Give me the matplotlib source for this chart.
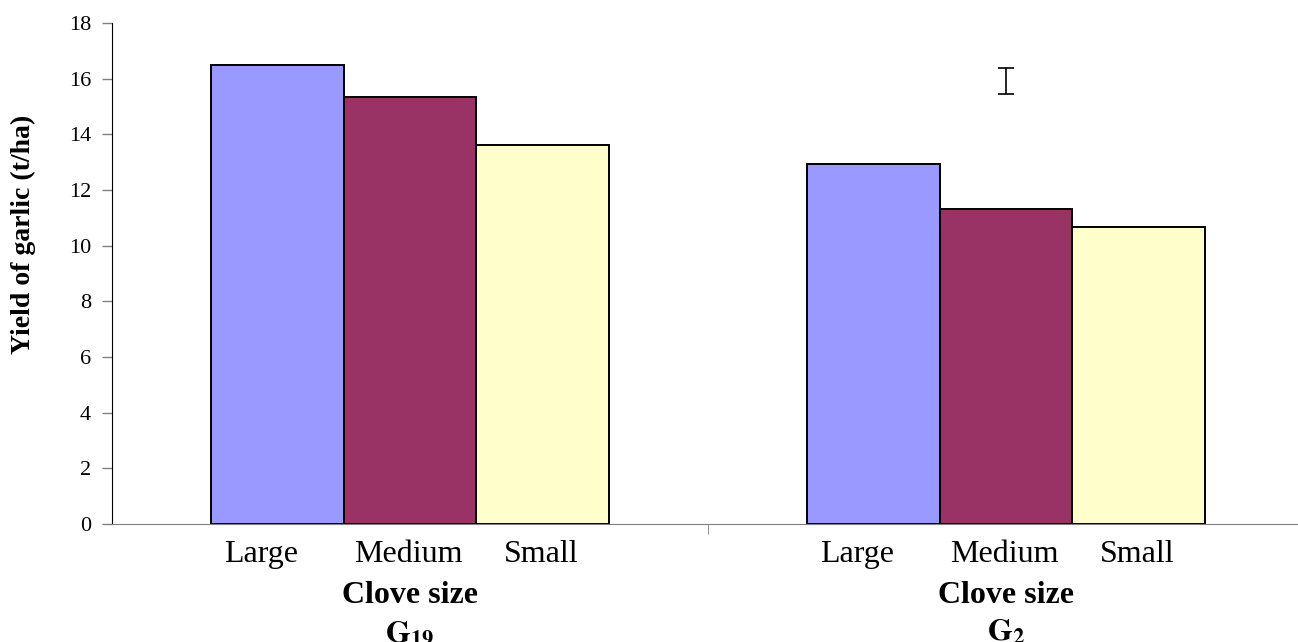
import numpy as np
import matplotlib.pyplot as plt
from matplotlib.transforms import ScaledTranslation

plt.rcParams['font.family'] = ['Liberation Serif', 'DejaVu Serif']
plt.rcParams['mathtext.fontset'] = 'stix'

genotypes = [r'$\mathbf{G}_{\mathbf{19}}$', r'$\mathbf{G}_{\mathbf{2}}$']
sizes = ['Large', 'Medium', 'Small']
large = [16.5, 12.95]
medium = [15.35, 11.3]
small = [13.6, 10.68]
colors = ['#9999FF', '#993366', '#FFFFCC']
lsd_center = 15.92
lsd_half = 0.47

fig = plt.figure(figsize=(12.98, 6.42), dpi=100)
ax = fig.add_axes([0.0863, 0.1838, 0.9183, 0.7804])

centers = np.arange(len(genotypes)) + 0.5
w = 0.223
series = [large, medium, small]
for i, vals in enumerate(series):
    ax.bar(centers + (i - 1) * w, vals, width=w, color=colors[i],
           edgecolor='black', linewidth=1.4, zorder=2)

# LSD bar over G2 medium
ax.errorbar([centers[1]], [lsd_center], yerr=[lsd_half], fmt='none',
            ecolor='black', elinewidth=1.2, capsize=6, capthick=1.2)

ax.set_xlim(0, 2)
ax.set_ylim(0, 18)
ax.set_yticks(np.arange(0, 19, 2))
ax.tick_params(axis='y', labelsize=16, length=7, width=1, pad=8, color='#808080')

ax.set_xticks([])
ax.set_xticks([1], minor=True)
ax.tick_params(axis='x', which='minor', length=7, color='#808080', labelbottom=False)

# category labels, shifted a little like the original
tr = ax.get_xaxis_transform()
shift_px = [-16, -2, -2]
for c, g in zip(centers, genotypes):
    for i, s in enumerate(sizes):
        off = ScaledTranslation(shift_px[i] / 100, 0, fig.dpi_scale_trans)
        ax.text(c + (i - 1) * w, -0.06, s, transform=tr + off, ha='center',
                va='center', fontsize=23)
    ax.text(c, -0.142, 'Clove size', transform=tr, ha='center', va='center',
            fontsize=23, fontweight='bold')
    ax.text(c, -0.218, g, transform=tr, ha='center', va='center', fontsize=23)

fig.text(23 / 1298, 1 - 234 / 642, 'Yield of garlic (t/ha)', rotation=90,
         ha='center', va='center', fontsize=20, fontweight='bold')

ax.spines['top'].set_visible(False)
ax.spines['right'].set_visible(False)
ax.spines['bottom'].set_color('#808080')

fig.savefig('out.png', dpi=100)
